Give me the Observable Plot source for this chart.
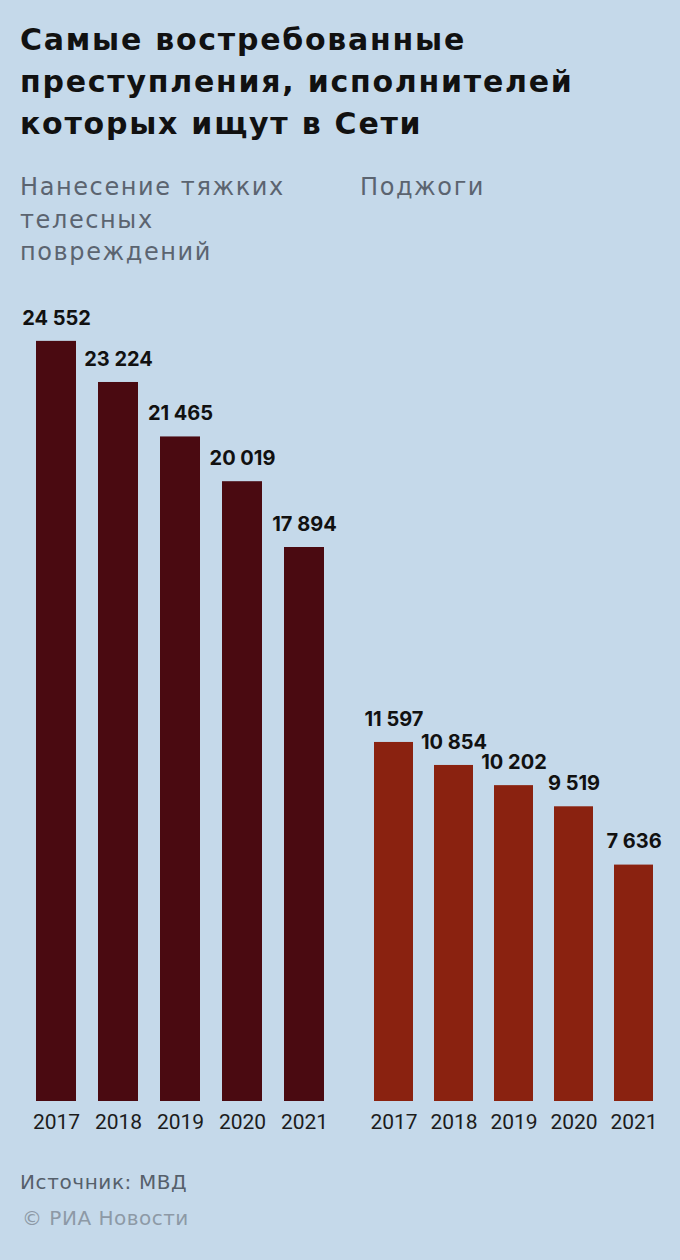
<!DOCTYPE html>
<html>
<head>
<meta charset="utf-8">
<script src="https://cdn.jsdelivr.net/npm/d3@7"></script>
<script src="https://cdn.jsdelivr.net/npm/@observablehq/plot@0.6"></script>
<style>
  html, body { margin: 0; padding: 0; background: #c5d9ea; }
  body { width: 680px; height: 1260px; overflow: hidden; font-family: "DejaVu Sans", sans-serif; }
  #title { position: absolute; left: 20px; top: 19px; font-size: 30px; font-weight: 700; line-height: 42px; color: #111; white-space: nowrap; letter-spacing: 1.75px; }
  .head { position: absolute; top: 171px; font-size: 24px; font-weight: 400; line-height: 32.5px; color: #5b6470; letter-spacing: 1.6px; }
  #h1 { left: 20px; width: 300px; }
  #h2 { left: 360px; }
  #row { position: absolute; left: 0; top: 290px; display: flex; }
  #src { position: absolute; left: 20px; top: 1170px; font-size: 20px; color: #56606b; letter-spacing: 0.6px; }
  #copy { position: absolute; left: 22px; top: 1206px; font-size: 20px; color: #8d99a6; letter-spacing: 0.5px; }
</style>
</head>
<body>
<div id="title">Самые востребованные<br>преступления, исполнителей<br>которых ищут в Сети</div>
<div class="head" id="h1"></div>
<div class="head" id="h2"></div>
<div id="row"></div>
<div id="src">Источник: МВД</div>
<div id="copy">© РИА Новости</div>
<script>
const years = ["2017", "2018", "2019", "2020", "2021"];
const categories = ["Нанесение тяжких телесных повреждений", "Поджоги"];
const injuries = [24552, 23224, 21465, 20019, 17894];
const arson = [11597, 10854, 10202, 9519, 7636];
const colors = ["#4a0a11", "#8a2210"];

document.getElementById("h1").textContent = categories[0];
document.getElementById("h2").textContent = categories[1];

const fmt = d3.formatLocale({decimal: ",", thousands: "\u00a0", grouping: [3], currency: ["", ""]}).format(",");

function panel(values, color, mL, mR, pInner, pOuter) {
  const data = years.map((y, i) => ({year: y, value: values[i]}));
  return Plot.plot({
    width: 340,
    height: 850,
    marginTop: 37,
    marginBottom: 39,
    marginLeft: mL,
    marginRight: mR,
    style: {background: "transparent", fontFamily: "Inter, sans-serif", overflow: "visible"},
    x: {domain: years, paddingInner: pInner, paddingOuter: pOuter, label: null},
    y: {domain: [0, 25000], axis: null},
    marks: [
      Plot.barY(data, {x: "year", y: "value", fill: color}),
      Plot.text(data, {x: "year", y: "value", text: d => fmt(d.value), dy: -23, fontSize: 20, fontWeight: 700, fill: "#111"}),
      Plot.axisX({tickSize: 0, tickPadding: 13, fontSize: 21, fill: "#1c1c1c", label: null, fontFamily: "Roboto, sans-serif"})
    ]
  });
}

const row = document.getElementById("row");
row.appendChild(panel(injuries, colors[0], 30, 10, 0.36, 0.08));
row.appendChild(panel(arson, colors[1], 26, 19, 0.342, 0.1));
</script>
</body>
</html>
